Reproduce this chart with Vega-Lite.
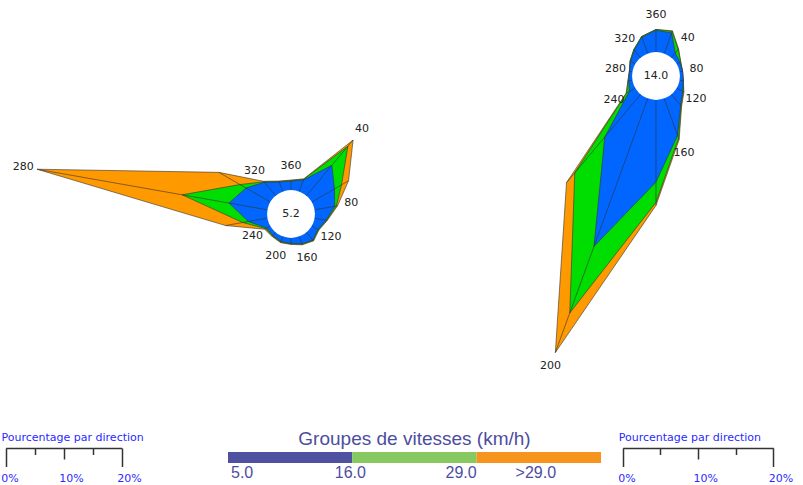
{
  "$schema": "https://vega.github.io/schema/vega-lite/v6.json",
  "padding": 0,
  "spacing": 0,
  "config": {"view": {"stroke": null}, "font": "DejaVu Sans"},
  "datasets": {
    "vents": [
      {"rose":"A","dir":20,"classe":"5.0-16.0","pct":1.6},{"rose":"A","dir":20,"classe":"16.0-29.0","pct":0.1},{"rose":"A","dir":20,"classe":">29.0","pct":0.1},
      {"rose":"A","dir":40,"classe":"5.0-16.0","pct":6.3},{"rose":"A","dir":40,"classe":"16.0-29.0","pct":4.3},{"rose":"A","dir":40,"classe":">29.0","pct":1.4},
      {"rose":"A","dir":60,"classe":"5.0-16.0","pct":4.0},{"rose":"A","dir":60,"classe":"16.0-29.0","pct":1.4},{"rose":"A","dir":60,"classe":">29.0","pct":1.4},
      {"rose":"A","dir":80,"classe":"5.0-16.0","pct":3.0},{"rose":"A","dir":80,"classe":"16.0-29.0","pct":0.3},{"rose":"A","dir":80,"classe":">29.0","pct":0.2},
      {"rose":"A","dir":100,"classe":"5.0-16.0","pct":1.5},{"rose":"A","dir":100,"classe":"16.0-29.0","pct":0.1},{"rose":"A","dir":100,"classe":">29.0","pct":0.1},
      {"rose":"A","dir":120,"classe":"5.0-16.0","pct":0.7},{"rose":"A","dir":120,"classe":"16.0-29.0","pct":0.1},{"rose":"A","dir":120,"classe":">29.0","pct":0.1},
      {"rose":"A","dir":140,"classe":"5.0-16.0","pct":1.2},{"rose":"A","dir":140,"classe":"16.0-29.0","pct":0.1},{"rose":"A","dir":140,"classe":">29.0","pct":0.1},
      {"rose":"A","dir":160,"classe":"5.0-16.0","pct":0.8},{"rose":"A","dir":160,"classe":"16.0-29.0","pct":0.1},{"rose":"A","dir":160,"classe":">29.0","pct":0.1},
      {"rose":"A","dir":180,"classe":"5.0-16.0","pct":0.4},{"rose":"A","dir":180,"classe":"16.0-29.0","pct":0.1},{"rose":"A","dir":180,"classe":">29.0","pct":0.1},
      {"rose":"A","dir":200,"classe":"5.0-16.0","pct":0.4},{"rose":"A","dir":200,"classe":"16.0-29.0","pct":0.1},{"rose":"A","dir":200,"classe":">29.0","pct":0.1},
      {"rose":"A","dir":220,"classe":"5.0-16.0","pct":0.2},{"rose":"A","dir":220,"classe":"16.0-29.0","pct":0.1},{"rose":"A","dir":220,"classe":">29.0","pct":0.1},
      {"rose":"A","dir":240,"classe":"5.0-16.0","pct":0.2},{"rose":"A","dir":240,"classe":"16.0-29.0","pct":0.2},{"rose":"A","dir":240,"classe":">29.0","pct":0.2},
      {"rose":"A","dir":260,"classe":"5.0-16.0","pct":2.8},{"rose":"A","dir":260,"classe":"16.0-29.0","pct":1.0},{"rose":"A","dir":260,"classe":">29.0","pct":3.0},
      {"rose":"A","dir":280,"classe":"5.0-16.0","pct":6.2},{"rose":"A","dir":280,"classe":"16.0-29.0","pct":8.2},{"rose":"A","dir":280,"classe":">29.0","pct":25.4},
      {"rose":"A","dir":300,"classe":"5.0-16.0","pct":4.3},{"rose":"A","dir":300,"classe":"16.0-29.0","pct":1.2},{"rose":"A","dir":300,"classe":">29.0","pct":4.2},
      {"rose":"A","dir":320,"classe":"5.0-16.0","pct":2.5},{"rose":"A","dir":320,"classe":"16.0-29.0","pct":0.1},{"rose":"A","dir":320,"classe":">29.0","pct":0.1},
      {"rose":"A","dir":340,"classe":"5.0-16.0","pct":1.2},{"rose":"A","dir":340,"classe":"16.0-29.0","pct":0.1},{"rose":"A","dir":340,"classe":">29.0","pct":0.1},
      {"rose":"A","dir":360,"classe":"5.0-16.0","pct":1.0},{"rose":"A","dir":360,"classe":"16.0-29.0","pct":0.1},{"rose":"A","dir":360,"classe":">29.0","pct":0.1},
      {"rose":"B","dir":20,"classe":"5.0-16.0","pct":2.5},{"rose":"B","dir":20,"classe":"16.0-29.0","pct":0.2},{"rose":"B","dir":20,"classe":">29.0","pct":0.1},
      {"rose":"B","dir":40,"classe":"5.0-16.0","pct":0.4},{"rose":"B","dir":40,"classe":"16.0-29.0","pct":0.6},{"rose":"B","dir":40,"classe":">29.0","pct":0.1},
      {"rose":"B","dir":60,"classe":"5.0-16.0","pct":0.1},{"rose":"B","dir":60,"classe":"16.0-29.0","pct":0.1},{"rose":"B","dir":60,"classe":">29.0","pct":0.0},
      {"rose":"B","dir":80,"classe":"5.0-16.0","pct":0.0},{"rose":"B","dir":80,"classe":"16.0-29.0","pct":0.0},{"rose":"B","dir":80,"classe":">29.0","pct":0.0},
      {"rose":"B","dir":100,"classe":"5.0-16.0","pct":0.1},{"rose":"B","dir":100,"classe":"16.0-29.0","pct":0.0},{"rose":"B","dir":100,"classe":">29.0","pct":0.0},
      {"rose":"B","dir":120,"classe":"5.0-16.0","pct":0.5},{"rose":"B","dir":120,"classe":"16.0-29.0","pct":0.1},{"rose":"B","dir":120,"classe":">29.0","pct":0.1},
      {"rose":"B","dir":140,"classe":"5.0-16.0","pct":1.5},{"rose":"B","dir":140,"classe":"16.0-29.0","pct":0.1},{"rose":"B","dir":140,"classe":">29.0","pct":0.1},
      {"rose":"B","dir":160,"classe":"5.0-16.0","pct":4.8},{"rose":"B","dir":160,"classe":"16.0-29.0","pct":0.4},{"rose":"B","dir":160,"classe":">29.0","pct":0.2},
      {"rose":"B","dir":180,"classe":"5.0-16.0","pct":10.5},{"rose":"B","dir":180,"classe":"16.0-29.0","pct":2.7},{"rose":"B","dir":180,"classe":">29.0","pct":0.4},
      {"rose":"B","dir":200,"classe":"5.0-16.0","pct":20.5},{"rose":"B","dir":200,"classe":"16.0-29.0","pct":9.4},{"rose":"B","dir":200,"classe":">29.0","pct":5.6},
      {"rose":"B","dir":220,"classe":"5.0-16.0","pct":7.0},{"rose":"B","dir":220,"classe":"16.0-29.0","pct":6.2},{"rose":"B","dir":220,"classe":">29.0","pct":1.7},
      {"rose":"B","dir":240,"classe":"5.0-16.0","pct":0.5},{"rose":"B","dir":240,"classe":"16.0-29.0","pct":0.4},{"rose":"B","dir":240,"classe":">29.0","pct":0.1},
      {"rose":"B","dir":260,"classe":"5.0-16.0","pct":0.1},{"rose":"B","dir":260,"classe":"16.0-29.0","pct":0.1},{"rose":"B","dir":260,"classe":">29.0","pct":0.0},
      {"rose":"B","dir":280,"classe":"5.0-16.0","pct":0.0},{"rose":"B","dir":280,"classe":"16.0-29.0","pct":0.0},{"rose":"B","dir":280,"classe":">29.0","pct":0.0},
      {"rose":"B","dir":300,"classe":"5.0-16.0","pct":0.3},{"rose":"B","dir":300,"classe":"16.0-29.0","pct":0.1},{"rose":"B","dir":300,"classe":">29.0","pct":0.0},
      {"rose":"B","dir":320,"classe":"5.0-16.0","pct":0.9},{"rose":"B","dir":320,"classe":"16.0-29.0","pct":0.1},{"rose":"B","dir":320,"classe":">29.0","pct":0.0},
      {"rose":"B","dir":340,"classe":"5.0-16.0","pct":1.9},{"rose":"B","dir":340,"classe":"16.0-29.0","pct":0.1},{"rose":"B","dir":340,"classe":">29.0","pct":0.0},
      {"rose":"B","dir":360,"classe":"5.0-16.0","pct":2.5},{"rose":"B","dir":360,"classe":"16.0-29.0","pct":0.1},{"rose":"B","dir":360,"classe":">29.0","pct":0.0}
    ],
    "calmes": [
      {"rose": "A", "calme": 5.2},
      {"rose": "B", "calme": 14.0}
    ],
    "groupes": [
      {"groupe": "5.0-16.0", "rang": 1, "de": "5.0", "a": "16.0"},
      {"groupe": "16.0-29.0", "rang": 2, "de": "16.0", "a": "29.0"},
      {"groupe": ">29.0", "rang": 3, "de": "29.0", "a": ">29.0"}
    ]
  },
  "vconcat": [
    {
      "bounds": "flush",
      "spacing": 0,
      "hconcat": [
        {
          "width": 470,
          "height": 430,
          "layer": [
            {
              "data": {"name": "vents"},
              "transform": [
                {"filter": "datum.rose == 'A'"},
                {"calculate": "indexof(['5.0-16.0','16.0-29.0','>29.0'], datum.classe) + 1", "as": "k"},
                {"window": [{"op": "sum", "field": "pct", "as": "cum"}], "groupby": ["dir"], "sort": [{"field": "k", "order": "ascending"}], "frame": [null, 0]},
                {"calculate": "4.655 + datum.cum", "as": "r"},
                {"calculate": "datum.r * sin(datum.dir * PI / 180)", "as": "x"},
                {"calculate": "datum.r * cos(datum.dir * PI / 180)", "as": "y"},
                {"calculate": "(datum.r + 2.41) * sin(datum.dir * PI / 180)", "as": "xl"},
                {"calculate": "(datum.r + 2.41) * cos(datum.dir * PI / 180)", "as": "yl"}
              ],
              "encoding": {
                "x": {"field": "x", "type": "quantitative", "scale": {"domain": [-50, 31.034], "nice": false, "zero": false}, "axis": null},
                "y": {"field": "y", "type": "quantitative", "scale": {"domain": [-37.241, 36.897], "nice": false, "zero": false}, "axis": null}
              },
              "layer": [
                {"transform": [{"filter": "datum.k == 3"}], "mark": {"type": "line", "interpolate": "linear-closed", "fill": "#ff9900", "stroke": "#333333", "strokeWidth": 0.6}, "encoding": {"order": {"field": "dir", "type": "quantitative"}}},
                {"transform": [{"filter": "datum.k == 2"}], "mark": {"type": "line", "interpolate": "linear-closed", "fill": "#00dd00", "stroke": "#333333", "strokeWidth": 0.6}, "encoding": {"order": {"field": "dir", "type": "quantitative"}}},
                {"transform": [{"filter": "datum.k == 1"}], "mark": {"type": "line", "interpolate": "linear-closed", "fill": "#0066ff", "stroke": "#333333", "strokeWidth": 0.6}, "encoding": {"order": {"field": "dir", "type": "quantitative"}}},
                {"transform": [{"filter": "datum.k == 3"}], "mark": {"type": "rule", "stroke": "#333333", "strokeWidth": 0.6}, "encoding": {"x2": {"datum": 0}, "y2": {"datum": 0}}},
                {"transform": [{"filter": "datum.k == 3 && datum.dir % 40 == 0"}], "mark": {"type": "text", "font": "DejaVu Sans", "fontSize": 11, "color": "#222222", "align": "center", "baseline": "middle"},
                 "encoding": {
                   "x": {"field": "xl", "type": "quantitative", "scale": {"domain": [-50, 31.034], "nice": false, "zero": false}, "axis": null},
                   "y": {"field": "yl", "type": "quantitative", "scale": {"domain": [-37.241, 36.897], "nice": false, "zero": false}, "axis": null},
                   "text": {"field": "dir", "type": "nominal"}
                 }}
              ]
            },
            {
              "data": {"name": "calmes"},
              "transform": [{"filter": "datum.rose == 'A'"}],
              "encoding": {
                "x": {"datum": 0, "type": "quantitative", "scale": {"domain": [-50, 31.034], "nice": false, "zero": false}, "axis": null},
                "y": {"datum": 0, "type": "quantitative", "scale": {"domain": [-37.241, 36.897], "nice": false, "zero": false}, "axis": null}
              },
              "layer": [
                {"mark": {"type": "point", "shape": "circle", "filled": true, "fill": "#ffffff", "opacity": 1, "size": 2290, "strokeWidth": 0}},
                {"mark": {"type": "text", "font": "DejaVu Sans", "fontSize": 11, "color": "#222222", "align": "center", "baseline": "middle"}, "encoding": {"text": {"field": "calme", "type": "quantitative", "format": ".1f"}}}
              ]
            }
          ]
        },
        {
          "width": 333,
          "height": 430,
          "layer": [
            {
              "data": {"name": "vents"},
              "transform": [
                {"filter": "datum.rose == 'B'"},
                {"calculate": "indexof(['5.0-16.0','16.0-29.0','>29.0'], datum.classe) + 1", "as": "k"},
                {"window": [{"op": "sum", "field": "pct", "as": "cum"}], "groupby": ["dir"], "sort": [{"field": "k", "order": "ascending"}], "frame": [null, 0]},
                {"calculate": "3.586 + datum.cum", "as": "r"},
                {"calculate": "datum.r * sin(datum.dir * PI / 180)", "as": "x"},
                {"calculate": "datum.r * cos(datum.dir * PI / 180)", "as": "y"},
                {"calculate": "(datum.r + 1.86) * sin(datum.dir * PI / 180)", "as": "xl"},
                {"calculate": "(datum.r + 1.86) * cos(datum.dir * PI / 180)", "as": "yl"}
              ],
              "encoding": {
                "x": {"field": "x", "type": "quantitative", "scale": {"domain": [-24.568, 19.655], "nice": false, "zero": false}, "axis": null},
                "y": {"field": "y", "type": "quantitative", "scale": {"domain": [-47.012, 10.093], "nice": false, "zero": false}, "axis": null}
              },
              "layer": [
                {"transform": [{"filter": "datum.k == 3"}], "mark": {"type": "line", "interpolate": "linear-closed", "fill": "#ff9900", "stroke": "#333333", "strokeWidth": 0.6}, "encoding": {"order": {"field": "dir", "type": "quantitative"}}},
                {"transform": [{"filter": "datum.k == 2"}], "mark": {"type": "line", "interpolate": "linear-closed", "fill": "#00dd00", "stroke": "#333333", "strokeWidth": 0.6}, "encoding": {"order": {"field": "dir", "type": "quantitative"}}},
                {"transform": [{"filter": "datum.k == 1"}], "mark": {"type": "line", "interpolate": "linear-closed", "fill": "#0066ff", "stroke": "#333333", "strokeWidth": 0.6}, "encoding": {"order": {"field": "dir", "type": "quantitative"}}},
                {"transform": [{"filter": "datum.k == 3"}], "mark": {"type": "rule", "stroke": "#333333", "strokeWidth": 0.6}, "encoding": {"x2": {"datum": 0}, "y2": {"datum": 0}}},
                {"transform": [{"filter": "datum.k == 3 && datum.dir % 40 == 0"}], "mark": {"type": "text", "font": "DejaVu Sans", "fontSize": 11, "color": "#222222", "align": "center", "baseline": "middle"},
                 "encoding": {
                   "x": {"field": "xl", "type": "quantitative", "scale": {"domain": [-24.568, 19.655], "nice": false, "zero": false}, "axis": null},
                   "y": {"field": "yl", "type": "quantitative", "scale": {"domain": [-47.012, 10.093], "nice": false, "zero": false}, "axis": null},
                   "text": {"field": "dir", "type": "nominal"}
                 }}
              ]
            },
            {
              "data": {"name": "calmes"},
              "transform": [{"filter": "datum.rose == 'B'"}],
              "encoding": {
                "x": {"datum": 0, "type": "quantitative", "scale": {"domain": [-24.568, 19.655], "nice": false, "zero": false}, "axis": null},
                "y": {"datum": 0, "type": "quantitative", "scale": {"domain": [-47.012, 10.093], "nice": false, "zero": false}, "axis": null}
              },
              "layer": [
                {"mark": {"type": "point", "shape": "circle", "filled": true, "fill": "#ffffff", "opacity": 1, "size": 2290, "strokeWidth": 0}},
                {"mark": {"type": "text", "font": "DejaVu Sans", "fontSize": 11, "color": "#222222", "align": "center", "baseline": "middle"}, "encoding": {"text": {"field": "calme", "type": "quantitative", "format": ".1f"}}}
              ]
            }
          ]
        }
      ]
    },
    {
      "bounds": "flush",
      "spacing": 0,
      "hconcat": [
        {
          "width": 227,
          "height": 11,
          "data": {"name": "vents"},
          "transform": [{"filter": "datum.pct <= 20"}],
          "mark": {"type": "rule", "opacity": 0},
          "encoding": {
            "x": {
              "field": "pct", "type": "quantitative",
              "scale": {"domain": [0, 20], "range": [4.7, 120.7], "nice": false, "zero": false},
              "axis": {
                "orient": "bottom", "offset": -15, "values": [0, 5, 10, 15, 20], "grid": false,
                "domainColor": "#333333", "domainWidth": 1.5,
                "tickColor": "#333333", "tickWidth": 1.5,
                "tickSize": {"condition": [{"test": "datum.value == 10", "value": 11}, {"test": "datum.value == 5 || datum.value == 15", "value": 6.5}], "value": 18.5},
                "labelPadding": {"condition": {"test": "datum.value == 10", "value": 13.5}, "value": 6},
                "labelExpr": "datum.value % 10 == 0 ? datum.value + '%' : ''",
                "labelColor": "#2a2aff", "labelFont": "DejaVu Sans", "labelFontSize": 11,
                "labelAlign": "left", "labelBaseline": "top", "labelOffset": -5,
                "labelFlush": false, "labelOverlap": false,
                "title": "Pourcentage par direction", "titleX": 0, "titleY": -8,
                "titleAlign": "left", "titleBaseline": "alphabetic", "titleAnchor": "start",
                "titleColor": "#2a2aff", "titleFont": "DejaVu Sans", "titleFontSize": 11, "titleFontWeight": "normal"
              }
            }
          }
        },
        {
          "width": 373,
          "height": 11,
          "data": {"name": "groupes"},
          "title": {"text": "Groupes de vitesses (km/h)", "font": "Liberation Sans", "fontSize": 19, "fontWeight": "normal", "color": "#4d4d9f", "anchor": "middle", "offset": 3},
          "encoding": {
            "x": {"field": "groupe", "type": "nominal", "sort": ["5.0-16.0", "16.0-29.0", ">29.0"], "scale": {"paddingInner": 0, "paddingOuter": 0}, "axis": null}
          },
          "layer": [
            {"mark": {"type": "bar"}, "encoding": {"color": {"field": "groupe", "type": "nominal", "scale": {"domain": ["5.0-16.0", "16.0-29.0", ">29.0"], "range": ["#5050a0", "#88c860", "#f7941d"]}, "legend": null}}},
            {"transform": [{"filter": "datum.rang == 1"}], "mark": {"type": "text", "font": "Liberation Sans", "fontSize": 16, "color": "#4d4d9f", "align": "left", "baseline": "middle", "dx": 3, "dy": 15},
             "encoding": {"x": {"field": "groupe", "type": "nominal", "sort": ["5.0-16.0", "16.0-29.0", ">29.0"], "bandPosition": 0}, "text": {"field": "de"}}},
            {"transform": [{"filter": "datum.rang == 2"}], "mark": {"type": "text", "font": "Liberation Sans", "fontSize": 16, "color": "#4d4d9f", "align": "center", "baseline": "middle", "dx": -2, "dy": 15},
             "encoding": {"x": {"field": "groupe", "type": "nominal", "sort": ["5.0-16.0", "16.0-29.0", ">29.0"], "bandPosition": 0}, "text": {"field": "de"}}},
            {"transform": [{"filter": "datum.rang == 3"}], "mark": {"type": "text", "font": "Liberation Sans", "fontSize": 16, "color": "#4d4d9f", "align": "right", "baseline": "middle", "dx": 0, "dy": 15},
             "encoding": {"x": {"field": "groupe", "type": "nominal", "sort": ["5.0-16.0", "16.0-29.0", ">29.0"], "bandPosition": 0}, "text": {"field": "de"}}},
            {"transform": [{"filter": "datum.rang == 3"}], "mark": {"type": "text", "font": "Liberation Sans", "fontSize": 16, "color": "#4d4d9f", "align": "center", "baseline": "middle", "dx": -3, "dy": 15},
             "encoding": {"x": {"field": "groupe", "type": "nominal", "sort": ["5.0-16.0", "16.0-29.0", ">29.0"], "bandPosition": 0.5}, "text": {"field": "a"}}}
          ]
        },
        {
          "width": 203,
          "height": 11,
          "data": {"name": "vents"},
          "transform": [{"filter": "datum.pct <= 20"}],
          "mark": {"type": "rule", "opacity": 0},
          "encoding": {
            "x": {
              "field": "pct", "type": "quantitative",
              "scale": {"domain": [0, 20], "range": [21.7, 172.3], "nice": false, "zero": false},
              "axis": {
                "orient": "bottom", "offset": -15, "values": [0, 5, 10, 15, 20], "grid": false,
                "domainColor": "#333333", "domainWidth": 1.5,
                "tickColor": "#333333", "tickWidth": 1.5,
                "tickSize": {"condition": [{"test": "datum.value == 10", "value": 11}, {"test": "datum.value == 5 || datum.value == 15", "value": 6.5}], "value": 18.5},
                "labelPadding": {"condition": {"test": "datum.value == 10", "value": 13.5}, "value": 6},
                "labelExpr": "datum.value % 10 == 0 ? datum.value + '%' : ''",
                "labelColor": "#2a2aff", "labelFont": "DejaVu Sans", "labelFontSize": 11,
                "labelAlign": "left", "labelBaseline": "top", "labelOffset": -5,
                "labelFlush": false, "labelOverlap": false,
                "title": "Pourcentage par direction", "titleX": 17.3, "titleY": -8,
                "titleAlign": "left", "titleBaseline": "alphabetic", "titleAnchor": "start",
                "titleColor": "#2a2aff", "titleFont": "DejaVu Sans", "titleFontSize": 11, "titleFontWeight": "normal"
              }
            }
          }
        }
      ]
    }
  ]
}
